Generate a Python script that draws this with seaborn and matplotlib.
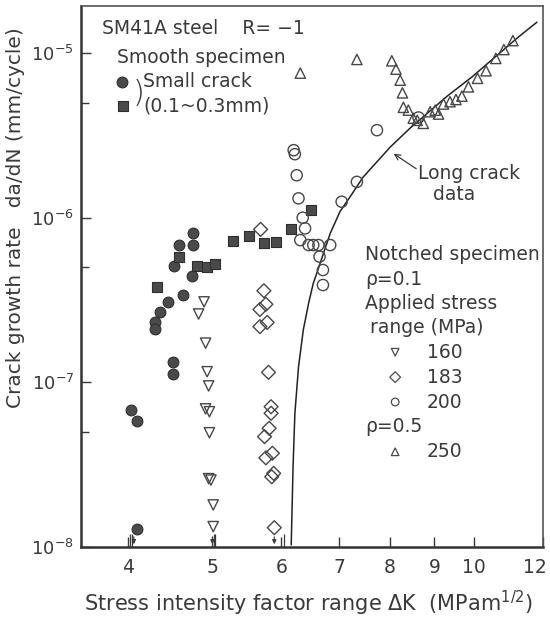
import numpy as np
import pandas as pd
import matplotlib
matplotlib.use("Agg")
import matplotlib.pyplot as plt
import matplotlib.ticker as mticker
import matplotlib.transforms as mtransforms
import seaborn as sns

# Smooth specimen, small crack (0.1~0.3 mm)
small_circ_dk = [4.75, 4.58, 4.75, 4.52, 4.74, 4.62, 4.44, 4.35, 4.29, 4.29, 4.50, 4.50, 4.03, 4.09, 4.09]
small_circ_rate = [8.09e-7, 6.84e-7, 6.84e-7, 5.11e-7, 4.42e-7, 3.37e-7, 3.06e-7, 2.68e-7, 2.33e-7,
                   2.11e-7, 1.33e-7, 1.12e-7, 6.76e-8, 5.82e-8, 1.28e-8]
small_sq_dk = [4.32, 4.58, 4.80, 4.93, 5.03, 5.28, 5.51, 5.73, 5.91, 6.15, 6.49]
small_sq_rate = [3.80e-7, 5.80e-7, 5.10e-7, 4.99e-7, 5.23e-7, 7.24e-7, 7.72e-7, 7.05e-7, 7.14e-7,
                 8.49e-7, 1.11e-6]

# Notched specimen, rho = 0.1
s160_dk = [4.89, 4.82, 4.91, 4.93, 4.95, 4.96, 4.91, 4.96, 4.98, 4.95, 5.01, 5.01]
s160_rate = [3.08e-7, 2.60e-7, 1.73e-7, 1.16e-7, 9.51e-8, 6.63e-8, 6.9e-8, 4.94e-8, 2.55e-8,
             2.6e-8, 1.80e-8, 1.33e-8]
s183_dk = [5.68, 5.73, 5.76, 5.67, 5.78, 5.67, 5.80, 5.84, 5.84, 5.81, 5.74, 5.86, 5.76, 5.88,
           5.85, 5.89]
s183_rate = [8.49e-7, 3.60e-7, 2.98e-7, 2.77e-7, 2.31e-7, 2.18e-7, 1.15e-7, 7.11e-8, 6.49e-8,
             5.26e-8, 4.68e-8, 3.71e-8, 3.48e-8, 2.80e-8, 2.67e-8, 1.31e-8]
s200_dk = [6.20, 6.22, 6.25, 6.28, 6.35, 6.39, 6.31, 6.45, 6.53, 6.62, 6.83, 6.64, 6.70, 6.70,
           7.04, 7.33, 7.73, 8.63]
s200_rate = [2.57e-6, 2.43e-6, 1.81e-6, 1.31e-6, 1.00e-6, 8.61e-7, 7.31e-7, 6.82e-7, 6.82e-7,
             6.82e-7, 6.82e-7, 5.80e-7, 4.81e-7, 3.90e-7, 1.25e-6, 1.65e-6, 3.40e-6, 4.06e-6]

# Notched specimen, rho = 0.5
s250_dk = [6.31, 7.33, 8.04, 8.13, 8.22, 8.27, 8.29, 8.40, 8.51, 8.74, 8.60, 8.90, 9.02, 9.10,
           9.22, 9.38, 9.53, 9.68, 9.85, 10.09, 10.32, 10.59, 10.82, 11.08]
s250_rate = [7.55e-6, 9.14e-6, 8.97e-6, 7.98e-6, 6.84e-6, 5.73e-6, 4.68e-6, 4.50e-6, 4.02e-6,
             3.74e-6, 3.90e-6, 4.40e-6, 4.50e-6, 4.26e-6, 4.90e-6, 5.06e-6, 5.22e-6, 5.47e-6,
             6.23e-6, 7.02e-6, 7.80e-6, 9.27e-6, 1.05e-5, 1.19e-5]

# Long crack data
long_dk = [6.16, 6.19, 6.22, 6.28, 6.36, 6.45, 6.53, 6.58, 6.83, 7.01, 7.20, 7.45, 8.01, 8.44,
           9.31, 9.94, 11.20, 11.81]
long_rate = [1.03e-8, 3.07e-8, 6.48e-8, 1.24e-7, 2.08e-7, 3.02e-7, 3.99e-7, 4.48e-7, 8.03e-7,
             1.09e-6, 1.34e-6, 1.76e-6, 2.69e-6, 3.50e-6, 5.47e-6, 7.15e-6, 1.23e-5, 1.54e-5]

# run-out arrows on the bottom axis
arrow_dk = [4.06, 5.00, 5.89]
bar_dk = [4.02, 4.04, 5.02, 5.03, 6.04]

x_ticks = [4, 5, 6, 7, 8, 9, 10, 12]

ink = "#3a3a3a"
sns.set_style("ticks")
plt.rcParams["font.family"] = ["DejaVu Sans"]
plt.rcParams["text.color"] = ink
plt.rcParams["xtick.color"] = ink
plt.rcParams["ytick.color"] = ink

fig = plt.figure(figsize=(5.5, 6.19), dpi=100)
ax = fig.add_axes([81 / 550, 72 / 619, 462 / 550, 541 / 619])

ax.plot(long_dk, long_rate, color="#222222", lw=1.1, zorder=1)

filled = dict(color="#4a4a4a", edgecolor="#2e2e2e", linewidth=0.8, legend=False, zorder=3)
hollow = dict(facecolor="none", edgecolor="#474747", linewidth=1.0, legend=False, zorder=3)

sns.scatterplot(x=small_circ_dk, y=small_circ_rate, marker="o", s=60, ax=ax, **filled)
sns.scatterplot(x=small_sq_dk, y=small_sq_rate, marker="s", s=55, ax=ax, **filled)
sns.scatterplot(x=s160_dk, y=s160_rate, marker="v", s=55, ax=ax, **hollow)
sns.scatterplot(x=s183_dk, y=s183_rate, marker="D", s=50, ax=ax, **hollow)
sns.scatterplot(x=s200_dk, y=s200_rate, marker="o", s=65, ax=ax, **hollow)
sns.scatterplot(x=s250_dk, y=s250_rate, marker="^", s=55, ax=ax, **hollow)

for xv in arrow_dk:
    ax.annotate("", xy=(xv, 1.0e-8), xytext=(xv, 1.2e-8),
                arrowprops=dict(arrowstyle="-|>", color=ink, lw=0.8, mutation_scale=6))
ax.vlines(bar_dk, 1.0e-8, 1.2e-8, color=ink, lw=0.9)

ax.set_xscale("log")
ax.set_yscale("log")
ax.set_xlim(3.53, 12)
ax.set_ylim(1e-8, 1.93e-5)
ax.xaxis.set_major_locator(mticker.FixedLocator(x_ticks))
ax.xaxis.set_major_formatter(mticker.FixedFormatter([str(t) for t in x_ticks]))
ax.xaxis.set_minor_locator(mticker.NullLocator())
ax.yaxis.set_major_locator(mticker.LogLocator(base=10, numticks=10))
ax.yaxis.set_minor_locator(mticker.LogLocator(base=10, subs=[5.0], numticks=10))
ax.yaxis.set_minor_formatter(mticker.NullFormatter())
ax.tick_params(axis="both", which="both", direction="in", width=1.0)
ax.tick_params(axis="x", which="major", length=7, pad=8, labelsize=13.5)
ax.tick_params(axis="y", which="major", length=7, pad=5, labelsize=13)
ax.tick_params(axis="y", which="minor", length=6)
for side in ["left", "bottom"]:
    ax.spines[side].set_linewidth(1.8)
    ax.spines[side].set_color("#333333")
for side in ["top", "right"]:
    ax.spines[side].set_linewidth(1.2)
    ax.spines[side].set_color("#555555")

# keep the last x label ("12") inside the figure
fig.canvas.draw()
last = ax.get_xticklabels()[-1]
last.set_transform(last.get_transform() + mtransforms.ScaledTranslation(-6 / 72, 0, fig.dpi_scale_trans))

# Annotations inside the plot
fs = 13.5
tx = dict(transform=ax.transAxes, fontsize=fs, va="center", ha="left")
ax.text(0.045, 0.959, "SM41A steel    R= \u22121", **tx)
ax.text(0.078, 0.904, "Smooth specimen", **tx)
ax.scatter([0.089], [0.860], transform=ax.transAxes, marker="o", s=60, color="#4a4a4a",
           edgecolor="#2e2e2e", linewidth=0.8)
ax.scatter([0.091], [0.815], transform=ax.transAxes, marker="s", s=50, color="#4a4a4a",
           edgecolor="#2e2e2e", linewidth=0.8)
ax.text(0.112, 0.838, ")", transform=ax.transAxes, fontsize=22, va="center", ha="left",
        fontweight="light")
ax.text(0.134, 0.860, "Small crack", **tx)
ax.text(0.134, 0.815, "(0.1~0.3mm)", **tx)

ax.text(0.729, 0.691, "Long crack", **tx)
ax.text(0.762, 0.651, "data", **tx)
ax.annotate("", xy=(8.03, 2.5e-6), xytext=(8.63, 1.94e-6),
            arrowprops=dict(arrowstyle="->", color=ink, lw=0.9))

ax.text(0.615, 0.540, "Notched specimen", **tx)
ax.text(0.615, 0.495, "\u03c1=0.1", **tx)
ax.text(0.615, 0.451, "Applied stress", **tx)
ax.text(0.626, 0.405, "range (MPa)", **tx)
legend_rows = [("v", "160", 0.360), ("D", "183", 0.314), ("o", "200", 0.268)]
for mk, lab, yy in legend_rows:
    ax.scatter([0.680], [yy], transform=ax.transAxes, marker=mk, s=30, facecolor="none",
               edgecolor="#4a4a4a", linewidth=0.9)
    ax.text(0.749, yy, lab, **tx)
ax.text(0.615, 0.222, "\u03c1=0.5", **tx)
ax.scatter([0.680], [0.176], transform=ax.transAxes, marker="^", s=30, facecolor="none",
           edgecolor="#4a4a4a", linewidth=0.9)
ax.text(0.749, 0.176, "250", **tx)

ax.set_xlabel("")
ax.set_ylabel("")
fig.text(308 / 550, 1 - 603 / 619, "Stress intensity factor range \u0394K  (MPam$^{1/2}$)",
         ha="center", va="center", fontsize=15)
fig.text(16 / 550, 1 - 218 / 619, "Crack growth rate   da/dN (mm/cycle)", rotation=90,
         ha="center", va="center", fontsize=14.5)

fig.savefig("out.png", dpi=100, facecolor="white")
